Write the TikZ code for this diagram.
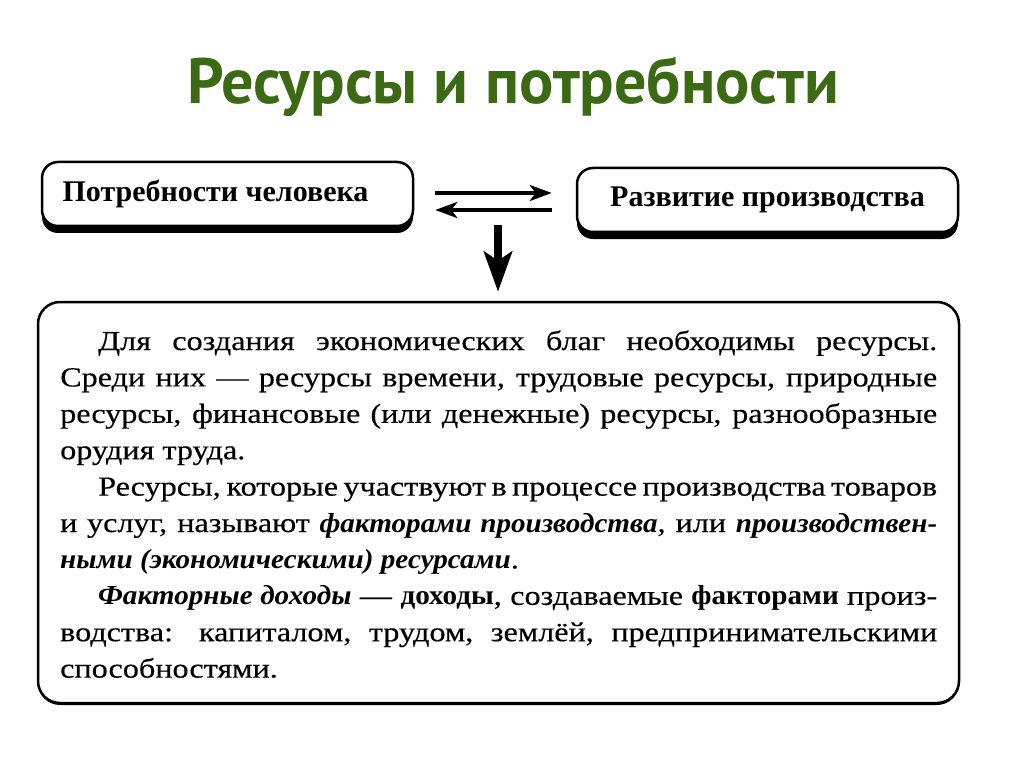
\documentclass[tikz,border=0pt]{standalone}
\usepackage{fontspec}
\setmainfont{Liberation Serif}
\newfontfamily\bodyfont{Liberation Serif}[
  UprightFeatures={FakeStretch=1.17, FakeBold=0.4},
  BoldFeatures={FakeStretch=1.06},
  ItalicFeatures={FakeStretch=1.1},
  BoldItalicFeatures={FakeStretch=1.06}]
\newfontfamily\titlefont{PT Sans}
\usetikzlibrary{arrows.meta}
\definecolor{titlegreen}{RGB}{60,105,20}
\tikzset{
  headbox/.style={draw, line width=2.5pt, fill=white, rounded corners=16pt,
    minimum height=64pt, inner sep=0pt, font=\fontsize{30}{36}\selectfont\bfseries},
  shadowbox/.style={fill=black, rounded corners=16pt, minimum height=64pt, inner sep=0pt},
  bodyline/.style={anchor=base west, inner sep=0pt, font=\bodyfont\fontsize{27.5}{36}\selectfont},
  arr/.style={line width=4pt, -{Stealth[length=22pt,width=16pt,inset=6pt]}},
  bigarr/.style={line width=8pt, -{Stealth[length=40pt,width=28pt,inset=9pt]}},
}
\begin{document}
\begin{tikzpicture}[x=1pt,y=1pt]
\useasboundingbox (0,0) rectangle (1024,-767);
\fill[white] (0,0) rectangle (1024,-767);
% title
\node[font=\titlefont\bfseries\fontsize{64}{70}\selectfont, text=titlegreen, anchor=base, inner sep=0pt] (title) at (513,-104) {Ресурсы и потребности};
% head boxes
\node[shadowbox, minimum width=371pt] (s1) at (227.5,-201) {};
\node[headbox, minimum width=371pt] (box1) at (227.5,-194) {Потребности человека\hspace*{24pt}};
\node[shadowbox, minimum width=381pt] (s2) at (767.5,-207) {};
\node[headbox, minimum width=381pt] (box2) at (767.5,-200) {Развитие производства};
% big box
\node[fill=black, rounded corners=22pt, minimum width=921pt, minimum height=401pt, inner sep=0pt] (bigs) at (498.5,-504.5) {};
\node[draw, fill=white, line width=2.5pt, rounded corners=22pt, minimum width=921pt, minimum height=401pt, inner sep=0pt] (big) at (498.5,-502.5) {};
% arrows
\coordinate (r1) at (0,-193);
\coordinate (r2) at (0,-210);
\coordinate (d0) at (498,-225);
\draw[arr, shorten <=21pt, shorten >=24pt] (box1.east |- r1) -- (box2.west |- r1);
\draw[arr, shorten <=24pt, shorten >=21pt] (box2.west |- r2) -- (box1.east |- r2);
\draw[bigarr, shorten >=9pt] (d0) -- (d0 |- big.north);
% body text
\node[bodyline] (l1) at (98,-350) {\makebox[839pt][s]{Для создания экономических благ необходимы ресурсы.}};
\node[bodyline] (l2) at (60,-386.4) {\makebox[877pt][s]{Среди них — ресурсы времени, трудовые ресурсы, природные}};
\node[bodyline] (l3) at (60,-422.8) {\makebox[877pt][s]{ресурсы, финансовые (или денежные) ресурсы, разнообразные}};
\node[bodyline] (l4) at (60,-459.2) {орудия труда.};
\node[bodyline] (l5) at (98,-495.6) {\makebox[839pt][s]{Ресурсы, которые участвуют в процессе производства товаров}};
\node[bodyline] (l6) at (60,-532) {\makebox[877pt][s]{и услуг, называют \textbf{\textit{факторами производства}}, или \textbf{\textit{производствен-}}}};
\node[bodyline] (l7) at (60,-568.4) {\textbf{\textit{ными (экономическими) ресурсами}}.};
\node[bodyline] (l8) at (98,-604.8) {\makebox[839pt][s]{\textbf{\textit{Факторные доходы}} — \textbf{доходы}, создаваемые \textbf{факторами} произ-}};
\node[bodyline] (l9) at (60,-641.2) {\makebox[877pt][s]{водства: капиталом, трудом, землёй, предпринимательскими}};
\node[bodyline] (l10) at (60,-677.6) {способностями.};
\end{tikzpicture}
\end{document}
